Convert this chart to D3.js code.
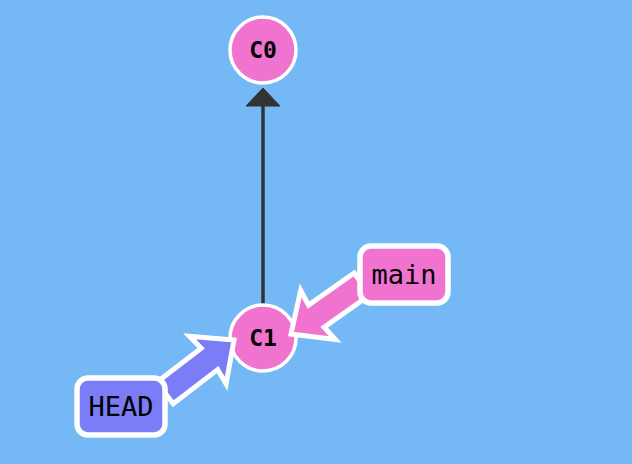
<!DOCTYPE html>
<html>
<head>
<meta charset="utf-8">
<script src="https://cdn.jsdelivr.net/npm/d3@7"></script>
<style>
  html, body { margin: 0; padding: 0; background: #74b9f5; }
  svg { display: block; }
</style>
</head>
<body>
<svg id="graph" width="632" height="464"></svg>
<script>
// commit graph
var commitIds = ["C0", "C1"];
var commitParents = [null, "C0"];
var commitDepth = [0, 1];

// refs pointing at commits
var refNames = ["main", "HEAD"];
var refTargets = ["C1", "C1"];
var refKinds = ["branch", "head"];

var W = 632, H = 464;
var svg = d3.select("#graph");

var x = d3.scalePoint().domain(["main-line"]).range([263, 263]);
var y = d3.scaleLinear().domain([0, 1]).range([50, 338]);

var R = 33;
var fillFor = { branch: "#ef73cf", head: "#7b7df6" };

var commits = commitIds.map(function (id, i) {
  return { id: id, parent: commitParents[i], cx: x("main-line"), cy: y(commitDepth[i]) };
});
var byId = {};
commits.forEach(function (c) { byId[c.id] = c; });

// label placement relative to target commit (branch up-right, HEAD down-left)
var refOffset = {
  branch: { dx: 141, dy: -64, sx: 99, sy: -54, tx: 28, ty: -4 },
  head:   { dx: -142, dy: 68, sx: -98, sy: 55, tx: -29, ty: 2 }
};
var refs = refNames.map(function (n, i) {
  var c = byId[refTargets[i]], o = refOffset[refKinds[i]];
  return {
    name: n, kind: refKinds[i],
    bx: c.cx + o.dx, by: c.cy + o.dy,
    start: [c.cx + o.sx, c.cy + o.sy],
    tip: [c.cx + o.tx, c.cy + o.ty]
  };
});

// parent edges
var edges = commits.filter(function (c) { return c.parent; });
svg.selectAll("line.edge").data(edges).enter().append("line")
  .attr("class", "edge")
  .attr("x1", function (d) { return d.cx; })
  .attr("y1", function (d) { return d.cy - R; })
  .attr("x2", function (d) { return byId[d.parent].cx; })
  .attr("y2", function (d) { return byId[d.parent].cy + R + 20; })
  .attr("stroke", "#333")
  .attr("stroke-width", 3.5);

svg.selectAll("path.edgehead").data(edges).enter().append("path")
  .attr("class", "edgehead")
  .attr("d", function (d) {
    var p = byId[d.parent], ty = p.cy + R + 5;
    return "M" + p.cx + "," + ty + "L" + (p.cx + 17) + "," + (ty + 18) +
      "L" + (p.cx - 17) + "," + (ty + 18) + "Z";
  })
  .attr("fill", "#333")
  .attr("stroke", "#333")
  .attr("stroke-width", 1)
  .attr("stroke-linejoin", "round");

// commits
var node = svg.selectAll("g.commit").data(commits).enter().append("g")
  .attr("class", "commit")
  .attr("transform", function (d) { return "translate(" + d.cx + "," + d.cy + ")"; });
node.append("circle")
  .attr("r", R)
  .attr("fill", "#ef73cf")
  .attr("stroke", "#fff")
  .attr("stroke-width", 3.5);
node.append("text")
  .attr("text-anchor", "middle")
  .attr("dy", "0.36em")
  .attr("font-family", "DejaVu Sans Mono, monospace")
  .attr("font-weight", "bold")
  .attr("font-size", 23)
  .attr("fill", "#000")
  .text(function (d) { return d.id; });

// fat ref arrows
function fatArrow(s, t) {
  var dx = t[0] - s[0], dy = t[1] - s[1];
  var len = Math.sqrt(dx * dx + dy * dy);
  var ux = dx / len, uy = dy / len, px = -uy, py = ux;
  var shaft = 13.5, head = 30, headLen = 31, barb = 2;
  function pt(a, b) { return [s[0] + ux * a + px * b, s[1] + uy * a + py * b]; }
  var pts = [
    pt(0, -shaft), pt(len - headLen, -shaft), pt(len - headLen - barb, -head),
    pt(len, 0),
    pt(len - headLen - barb, head), pt(len - headLen, shaft), pt(0, shaft)
  ];
  return d3.line()(pts) + "Z";
}

svg.selectAll("path.refarrow").data(refs).enter().append("path")
  .attr("class", "refarrow")
  .attr("d", function (d) { return fatArrow(d.start, d.tip); })
  .attr("fill", function (d) { return fillFor[d.kind]; })
  .attr("stroke", "#fff")
  .attr("stroke-width", 5)
  .attr("stroke-miterlimit", 4);

// ref labels
var label = svg.selectAll("g.ref").data(refs).enter().append("g")
  .attr("class", "ref")
  .attr("transform", function (d) { return "translate(" + d.bx + "," + d.by + ")"; });
label.append("rect")
  .attr("x", -44).attr("y", -28)
  .attr("width", 88).attr("height", 57)
  .attr("rx", 11)
  .attr("fill", function (d) { return fillFor[d.kind]; })
  .attr("stroke", "#fff")
  .attr("stroke-width", 5.5);
label.append("text")
  .attr("text-anchor", "middle")
  .attr("dy", "0.36em")
  .attr("font-family", "DejaVu Sans Mono, monospace")
  .attr("font-size", 27)
  .attr("fill", "#000")
  .text(function (d) { return d.name; });
</script>
</body>
</html>
